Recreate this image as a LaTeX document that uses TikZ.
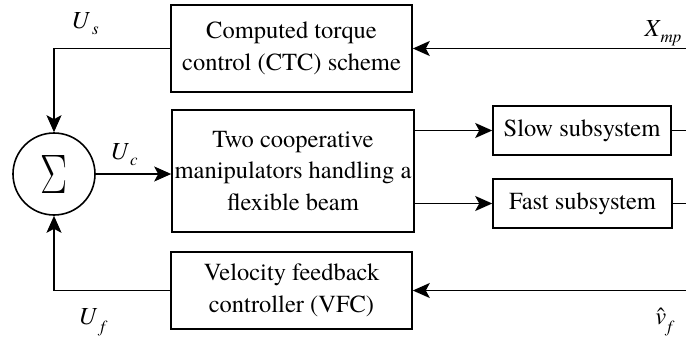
\documentclass[tikz,border=0pt]{standalone}
\usepackage{graphicx}
\usepackage{fontspec}
\newfontfamily\diagfont{texgyretermes-regular.otf}[ItalicFont=texgyretermes-italic.otf]
\usetikzlibrary{arrows.meta}
\begin{document}
\begin{tikzpicture}[x=1pt,y=-1pt,
  every node/.style={font=\diagfont\fontsize{24.5}{31.5}\selectfont},
  blockbox/.style={draw,line width=1.6pt,align=center,inner sep=0pt},
  sig/.style={line width=1.6pt,-{Stealth[length=17pt,width=15pt,inset=4pt]}},
  wire/.style={line width=1.6pt},
  lbl/.style={inner sep=0pt}]
\useasboundingbox (0,0) rectangle (686,340);

% blocks
\node[blockbox,minimum width=241pt,minimum height=87pt] (ctc) at (291.5,48.5)
  {Computed torque\\control (CTC) scheme};
\node[blockbox,minimum width=242pt,minimum height=122pt] (mid) at (293,171)
  {Two cooperative\\manipulators handling a\\flexible beam};
\node[blockbox,minimum width=241pt,minimum height=77pt] (vfc) at (291.5,290.5)
  {Velocity feedback\\controller (VFC)};
\node[blockbox,minimum width=178pt,minimum height=49pt] (slow) at (582,130.5)
  {Slow subsystem};
\node[blockbox,minimum width=179pt,minimum height=49pt] (fast) at (582.5,203.5)
  {Fast subsystem};

% summing junction
\node[draw,circle,line width=1.6pt,minimum size=82pt,inner sep=0pt] (sum) at (54,174)
  {\resizebox{27pt}{38pt}{$\Sigma$}};

% open ends at the right border
\coordinate (xin) at (686,48.5);
\coordinate (vin) at (686,290.5);
\coordinate (slowout) at (686,130.5);
\coordinate (fastout) at (686,203.5);

% connectors
\draw[sig] (xin) -- (ctc.east);
\draw[sig] (vin) -- (vfc.east);
\draw[sig] (ctc.west) -| (sum.north);
\draw[sig] (vfc.west) -| (sum.south);
\draw[sig] (sum.east) -- (sum.east -| mid.west);
\draw[sig] (mid.east |- slow.west) -- (slow.west);
\draw[sig] (mid.east |- fast.west) -- (fast.west);
\draw[wire] (slow.east) -- (slowout);
\draw[wire] (fast.east) -- (fastout);

% signal labels
\node[lbl] (us) at (85,24) {\textit{U}\hspace{2pt}\raisebox{-6pt}{\fontsize{17}{17}\selectfont\textit{s}}};
\node[lbl] (uc) at (124,155) {\textit{U}\hspace{1pt}\raisebox{-6pt}{\fontsize{17}{17}\selectfont\textit{c}}};
\node[lbl] (uf) at (93,322) {\textit{U}\hspace{3pt}\raisebox{-8pt}{\fontsize{17}{17}\selectfont\textit{f}}};
\node[lbl] (xmp) at (663,33) {\textit{X}\raisebox{-6pt}{\fontsize{17}{17}\selectfont\textit{mp}}};
\node[lbl] (vf) at (665,322) {\^{\textit{v}}\hspace{1pt}\raisebox{-8pt}{\fontsize{17}{17}\selectfont\textit{f}}};
\end{tikzpicture}
\end{document}
